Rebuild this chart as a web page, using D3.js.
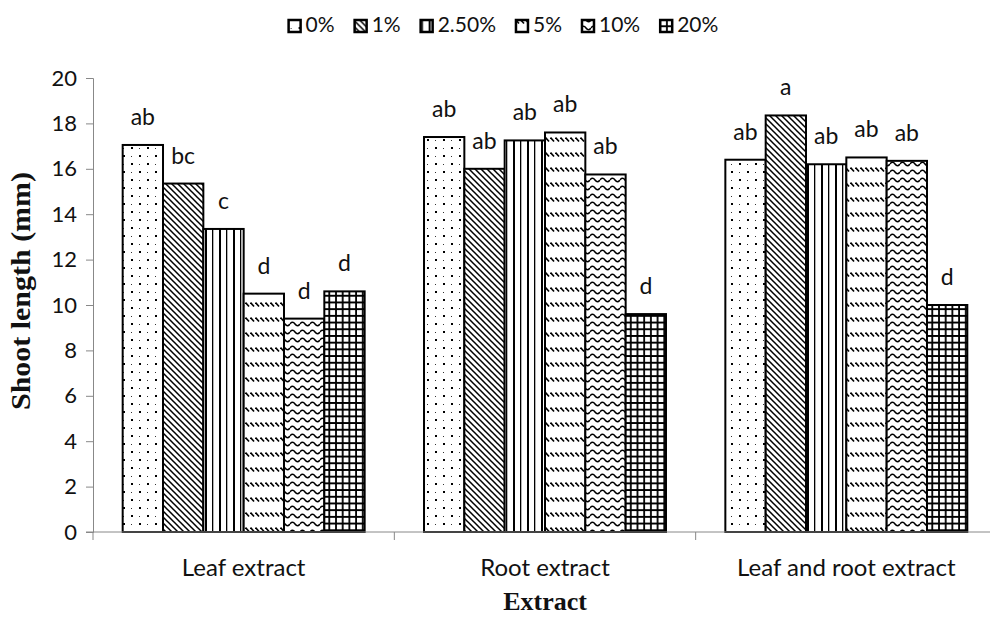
<!DOCTYPE html>
<html lang="en">
<head>
<meta charset="UTF-8" />
<script src="https://d3js.org/d3.v7.min.js"></script>
<title>Shoot length</title>
<style>
  body { margin: 0; background: #fff; }
  text { font-family: Lato, "Open Sans", sans-serif; fill: #111; }
</style>
</head>
<body>
<script>
// data
var categories = ["Leaf extract", "Root extract", "Leaf and root extract"];
var series = ["0%", "1%", "2.50%", "5%", "10%", "20%"];
var leafValues = [17.05, 15.35, 13.35, 10.5, 9.4, 10.6];
var rootValues = [17.4, 16.0, 17.25, 17.6, 15.75, 9.6];
var bothValues = [16.4, 18.35, 16.2, 16.5, 16.35, 10.0];
var leafLetters = ["ab", "bc", "c", "d", "d", "d"];
var rootLetters = ["ab", "ab", "ab", "ab", "ab", "d"];
var bothLetters = ["ab", "a", "ab", "ab", "ab", "d"];
var yTicks = [0, 2, 4, 6, 8, 10, 12, 14, 16, 18, 20];

var allValues = [leafValues, rootValues, bothValues];
var allLetters = [leafLetters, rootLetters, bothLetters];
var rows = [];
categories.forEach(function(c, i) {
  series.forEach(function(s, j) {
    rows.push({cat: c, ser: s, idx: j, v: allValues[i][j], letter: allLetters[i][j]});
  });
});

var W = 990, H = 617;
var svg = d3.select("body").append("svg").attr("width", W).attr("height", H);

// patterns
var defs = svg.append("defs");
function pat(id, w, h) {
  var p = defs.append("pattern").attr("id", id).attr("patternUnits", "userSpaceOnUse")
    .attr("width", w).attr("height", h);
  p.append("rect").attr("width", w).attr("height", h).attr("fill", "#fff");
  return p;
}
var p0 = pat("p0", 16, 16);
p0.append("rect").attr("x", 3).attr("y", 3).attr("width", 2).attr("height", 2).attr("fill", "#000");
p0.append("rect").attr("x", 11).attr("y", 11).attr("width", 2).attr("height", 2).attr("fill", "#000");
p0.append("rect").attr("x", 11).attr("y", 4).attr("width", 1).attr("height", 1).attr("fill", "#333");
p0.append("rect").attr("x", 3).attr("y", 12).attr("width", 1).attr("height", 1).attr("fill", "#333");

var p1 = pat("p1", 6, 6);
p1.append("path").attr("d", "M-1,-1L7,7M-1,5L1,7M5,-1L7,1").attr("stroke", "#000").attr("stroke-width", 1.5);

var p2 = pat("p2", 14, 10);
p2.append("rect").attr("x", 2).attr("y", 0).attr("width", 1.3).attr("height", 10).attr("fill", "#000");
p2.append("rect").attr("x", 9).attr("y", 0).attr("width", 2).attr("height", 10).attr("fill", "#000");

var p3 = pat("p3", 5, 15);
p3.append("path").attr("d", "M0.5,2.5L4,6.5").attr("stroke", "#000").attr("stroke-width", 1.6);

var p4 = pat("p4", 10, 8);
p4.append("path").attr("d", "M0,4 Q2.5,0.5 5,4 T10,4").attr("fill", "none").attr("stroke", "#000").attr("stroke-width", 1.5);

var p5 = pat("p5", 6.7, 6.7);
p5.append("path").attr("d", "M1,0V6.7M0,1H6.7").attr("stroke", "#000").attr("stroke-width", 1.8);

var fills = ["url(#p0)", "url(#p1)", "url(#p2)", "url(#p3)", "url(#p4)", "url(#p5)"];

// scales
var x0 = d3.scaleBand().domain(categories).range([93, 997]).paddingInner(0.197).paddingOuter(0.0985);
var x1 = d3.scaleBand().domain(series).range([0, x0.bandwidth()]);
var y = d3.scaleLinear().domain([0, 20]).range([532, 78]);

// y axis
var yAxis = svg.append("g").attr("transform", "translate(93,0)")
  .call(d3.axisLeft(y).tickValues(yTicks).tickSize(7).tickPadding(9));
yAxis.select(".domain").attr("stroke", "#888");
yAxis.selectAll(".tick line").attr("stroke", "#888");
yAxis.selectAll(".tick text").style("font-size", "22px").attr("fill", "#222")
  .style("font-family", "Lato, 'Open Sans', sans-serif");

// bars
svg.append("g").selectAll("rect").data(rows).enter().append("rect")
  .attr("x", function(d) { return x0(d.cat) + x1(d.ser); })
  .attr("y", function(d) { return y(d.v); })
  .attr("width", x1.bandwidth())
  .attr("height", function(d) { return y(0) - y(d.v); })
  .attr("fill", function(d) { return fills[d.idx]; })
  .attr("stroke", "#000").attr("stroke-width", 2);

// x axis
var xAxis = svg.append("g").attr("transform", "translate(0,532)");
xAxis.append("line").attr("x1", 86).attr("x2", 990).attr("y1", 0).attr("y2", 0).attr("stroke", "#888");
categories.forEach(function(c, i) {
  var bx = x0(c) - x0.step() * x0.paddingInner() / 2;
  xAxis.append("line").attr("x1", bx).attr("x2", bx).attr("y1", 0).attr("y2", 8).attr("stroke", "#888");
  xAxis.append("text").attr("x", x0(c) + x0.bandwidth() / 2).attr("y", 44)
    .attr("text-anchor", "middle").style("font-size", "24px").text(c);
});

// letters
svg.append("g").selectAll("text").data(rows).enter().append("text")
  .attr("x", function(d) { return x0(d.cat) + x1(d.ser) + x1.bandwidth() / 2; })
  .attr("y", function(d) { return y(d.v) - 20; })
  .attr("text-anchor", "middle").style("font-size", "23px")
  .text(function(d) { return d.letter; });

// axis titles
svg.append("text").attr("transform", "translate(30,291) rotate(-90)")
  .attr("text-anchor", "middle").style("font-family", "'Liberation Serif', 'Times New Roman', serif")
  .style("font-weight", "bold").style("font-size", "27px")
  .attr("textLength", 238).attr("lengthAdjust", "spacingAndGlyphs").text("Shoot length (mm)");
svg.append("text").attr("x", 545).attr("y", 610)
  .attr("text-anchor", "middle").style("font-family", "'Liberation Serif', 'Times New Roman', serif")
  .style("font-weight", "bold").style("font-size", "26px").text("Extract");

// legend
var legend = svg.append("g");
var lx = 0;
series.forEach(function(s, i) {
  var g = legend.append("g").attr("transform", "translate(" + lx + ",0)");
  g.append("rect").attr("x", 1).attr("y", -12).attr("width", 12).attr("height", 12)
    .attr("fill", fills[i]).attr("stroke", "#000").attr("stroke-width", 2.5);
  var t = g.append("text").attr("x", 18).attr("y", 0).style("font-size", "21px").text(s);
  lx += 18 + t.node().getComputedTextLength() + 19;
});
lx -= 19;
legend.attr("transform", "translate(" + (503 - lx / 2) + ",32)");
</script>
</body>
</html>
